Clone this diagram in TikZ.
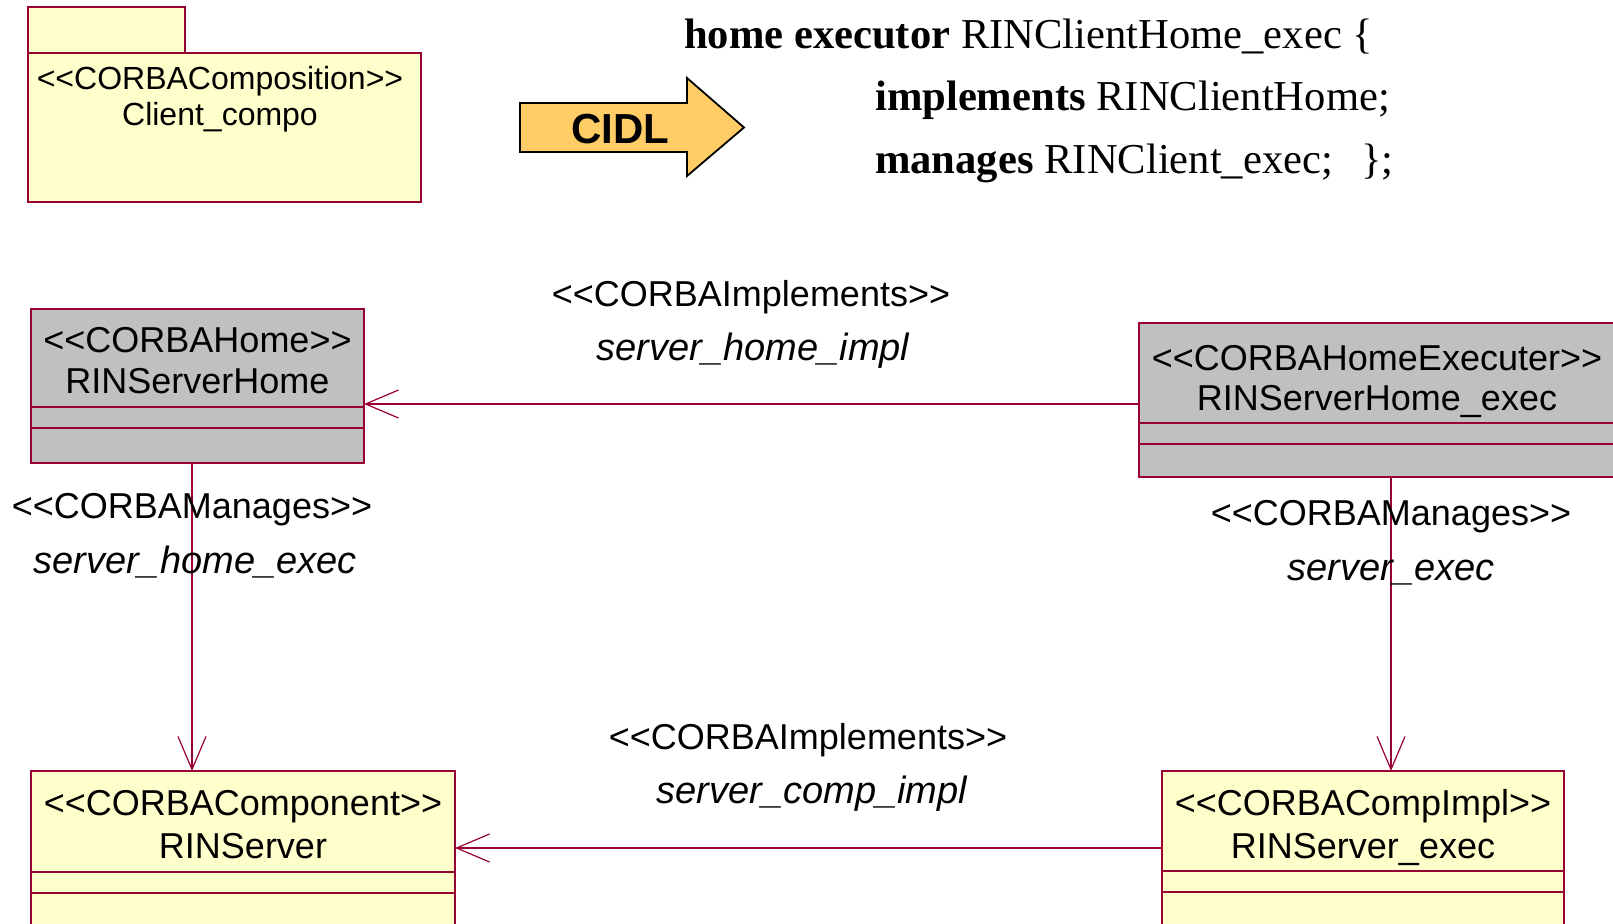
\documentclass[tikz,border=0pt]{standalone}
\usepackage{fontspec}
\setmainfont{Liberation Sans}
\newfontfamily\tms{Liberation Serif}
\usetikzlibrary{arrows.meta}
\definecolor{umlred}{RGB}{153,0,51}
\definecolor{umlyellow}{RGB}{255,255,204}
\definecolor{umlgray}{RGB}{192,192,192}
\definecolor{cidlorange}{RGB}{255,204,102}
\newcommand\stL{<{}<}
\newcommand\stR{>{}>}
\begin{document}
\begin{tikzpicture}[x=1pt,y=-1pt,
  box/.style={draw=umlred, line width=1.2pt, anchor=north west, inner sep=0pt, outer sep=0pt},
  ybox/.style={box, fill=umlyellow},
  gbox/.style={box, fill=umlgray},
  sep/.style={draw=umlred, line width=1.2pt},
  lbl/.style={anchor=base, font=\fontsize{36}{43}\selectfont, inner sep=0pt},
  ilbl/.style={anchor=base, font=\fontsize{38}{45}\selectfont\itshape, inner sep=0pt},
  conn/.style={draw=umlred, line width=1.2pt, -{Straight Barb[length=33pt,width=28pt,line width=1.2pt]}},
  code/.style={anchor=base west, font=\tms\fontsize{42.6}{50}\selectfont, inner sep=0pt}
]
\useasboundingbox (0,0) rectangle (1613,923);

% package Client_compo
\node[ybox, minimum width=157pt, minimum height=46pt] (tab) at (28,7) {};
\node[ybox, minimum width=393pt, minimum height=149pt] (pkg) at (28,53) {};
\node[anchor=base, inner sep=0pt, font=\fontsize{32}{38}\selectfont] (pkgt1) at (220,89.5) {\stL CORBAComposition\stR};
\node[anchor=base, inner sep=0pt, font=\fontsize{32}{38}\selectfont] (pkgt2) at (220,125.5) {Client\_compo};

% CIDL arrow
\draw[fill=cidlorange, draw=black, line width=1.8pt, line join=miter]
  (520,103) -- (687,103) -- (687,78) -- (744,127.5) -- (687,176) -- (687,152) -- (520,152) -- cycle;
\node[anchor=base, inner sep=0pt, font=\bfseries\fontsize{42}{50}\selectfont] (cidl) at (620,143) {CIDL};

% CIDL code
\node[code] (code1) at (684,49) {\textbf{home executor} RINClientHome\_exec \{};
\node[code] (code2) at (875,111) {\textbf{implements} RINClientHome;};
\node[code] (code3) at (875,173) {\textbf{manages} RINClient\_exec;\hspace{28pt}\};};

% RINServerHome
\node[gbox, minimum width=333pt, minimum height=154pt] (home) at (31,309) {};
\draw[sep] (home.west |- 0,407) -- (home.east |- 0,407);
\draw[sep] (home.west |- 0,428) -- (home.east |- 0,428);
\node[lbl] (homet1) at (197.5,352) {\stL CORBAHome\stR};
\node[lbl] (homet2) at (197.5,393) {RINServerHome};

% RINServerHome_exec
\node[gbox, minimum width=477pt, minimum height=154pt] (hexec) at (1139,323) {};
\draw[sep] (hexec.west |- 0,423) -- (hexec.east |- 0,423);
\draw[sep] (hexec.west |- 0,444) -- (hexec.east |- 0,444);
\node[lbl] (hexect1) at (1377,370) {\stL CORBAHomeExecuter\stR};
\node[lbl] (hexect2) at (1377,410) {RINServerHome\_exec};

% RINServer
\node[ybox, minimum width=424pt, minimum height=170pt] (comp) at (31,771) {};
\draw[sep] (comp.west |- 0,872) -- (comp.east |- 0,872);
\draw[sep] (comp.west |- 0,893) -- (comp.east |- 0,893);
\node[lbl] (compt1) at (243,815) {\stL CORBAComponent\stR};
\node[lbl] (compt2) at (243,858) {RINServer};

% RINServer_exec
\node[ybox, minimum width=402pt, minimum height=170pt] (cimpl) at (1162,771) {};
\draw[sep] (cimpl.west |- 0,871) -- (cimpl.east |- 0,871);
\draw[sep] (cimpl.west |- 0,892) -- (cimpl.east |- 0,892);
\node[lbl] (cimplt1) at (1363,815) {\stL CORBACompImpl\stR};
\node[lbl] (cimplt2) at (1363,858) {RINServer\_exec};

% connectors
\draw[conn] (hexec.west |- 0,404) -- (home.east |- 0,404);
\draw[conn] (home.south -| 192,0) -- (comp.north -| 192,0);
\draw[conn] (hexec.south -| 1391,0) -- (cimpl.north -| 1391,0);
\draw[conn] (cimpl.west |- 0,848) -- (comp.east |- 0,848);

% connector labels
\node[lbl] (l1a) at (751,306) {\stL CORBAImplements\stR};
\node[ilbl] (l1b) at (753,360) {server\_home\_impl};
\node[lbl] (l2a) at (808,749) {\stL CORBAImplements\stR};
\node[ilbl] (l2b) at (812,803) {server\_comp\_impl};
\node[lbl] (l3a) at (192,518) {\stL CORBAManages\stR};
\node[ilbl] (l3b) at (195,573) {server\_home\_exec};
\node[lbl] (l4a) at (1391,525) {\stL CORBAManages\stR};
\node[ilbl] (l4b) at (1391,580) {server\_exec};
\end{tikzpicture}
\end{document}
